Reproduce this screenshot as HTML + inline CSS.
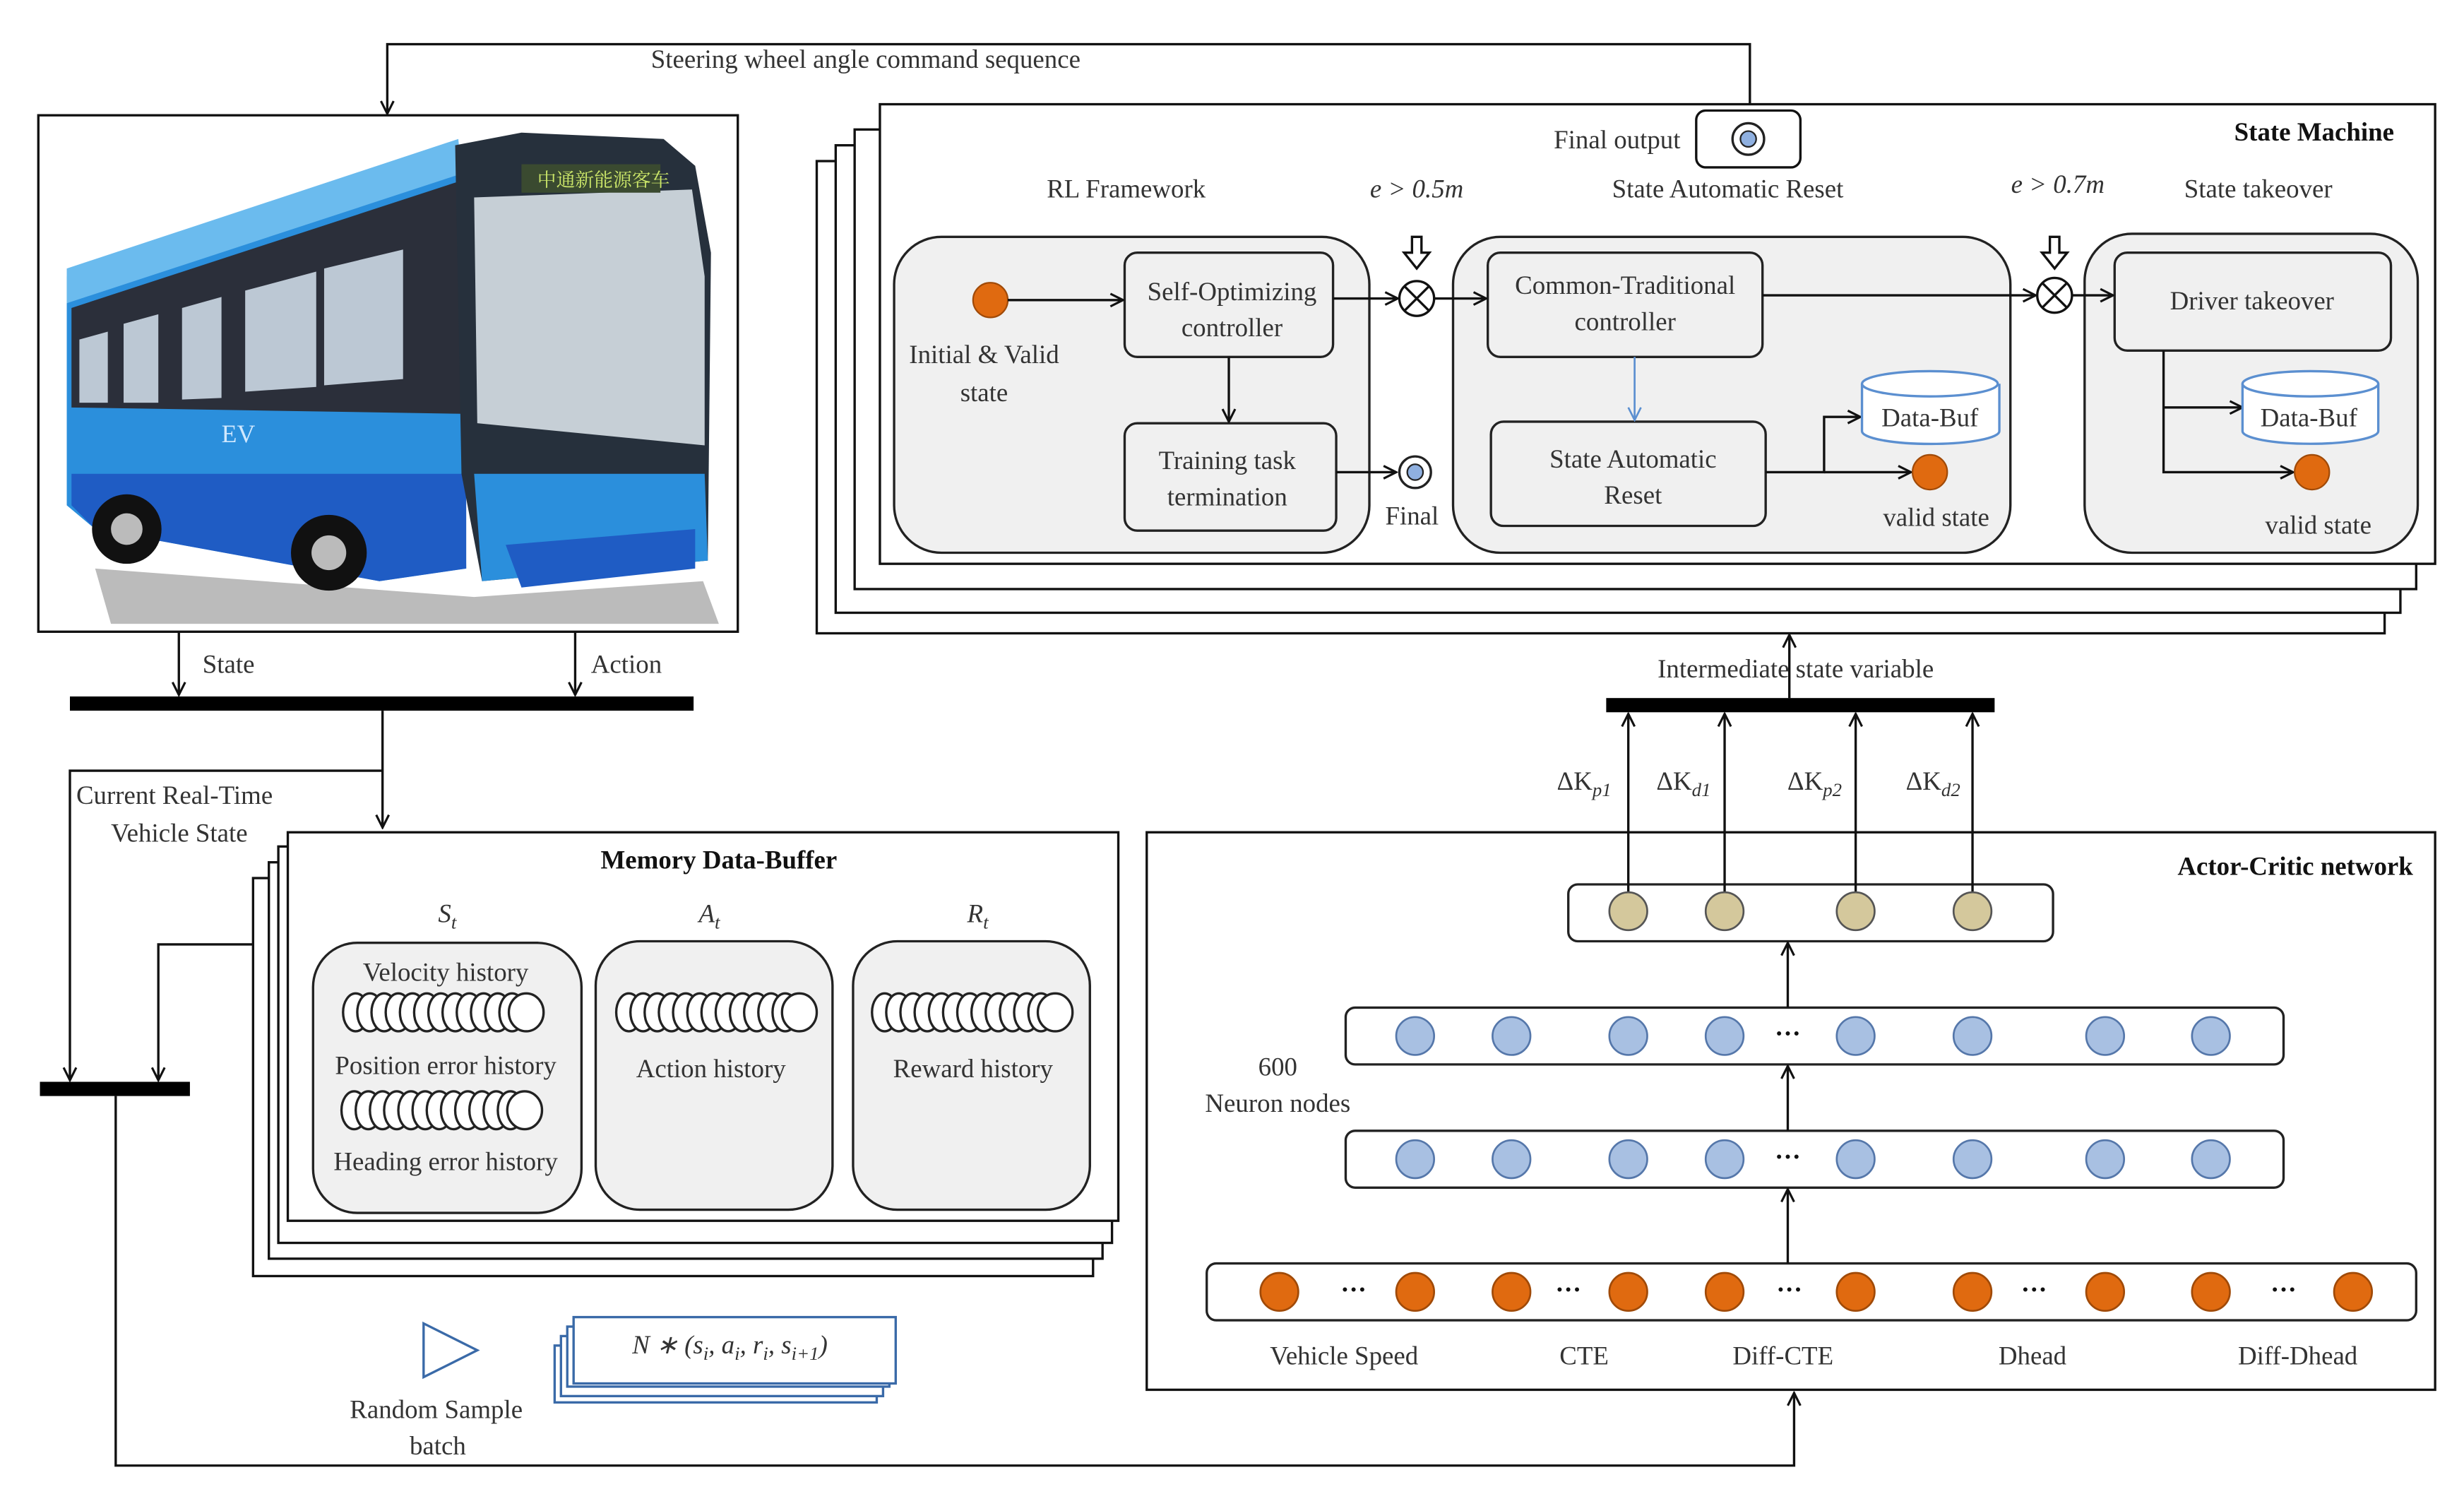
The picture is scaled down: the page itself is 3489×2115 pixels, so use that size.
<!DOCTYPE html>
<html><head><meta charset="utf-8"><style>html,body{margin:0;padding:0;background:#fff}svg{display:block}
text{font-family:"Liberation Serif","Noto Serif CJK SC",serif;font-size:16.5px;fill:#333}
.b{font-weight:bold;fill:#111}.i{font-style:italic}</style></head><body>
<svg width="3489" height="2115" viewBox="0 0 1560 946" xmlns="http://www.w3.org/2000/svg">
<defs>
<marker id="a" markerWidth="10" markerHeight="10" refX="9" refY="5" orient="auto" markerUnits="userSpaceOnUse"><path d="M1,1 L9,5 L1,9" fill="none" stroke="#111" stroke-width="1.4"/></marker>
<marker id="ab" markerWidth="10" markerHeight="10" refX="9" refY="5" orient="auto" markerUnits="userSpaceOnUse"><path d="M1,1 L9,5 L1,9" fill="none" stroke="#5b8fd0" stroke-width="1.2"/></marker>
<g id="coil"><g fill="#fff" stroke="#222" stroke-width="1.5">
<ellipse cx="0" cy="0" rx="8" ry="12"/><ellipse cx="9" cy="0" rx="8" ry="12"/><ellipse cx="18" cy="0" rx="8" ry="12"/><ellipse cx="27" cy="0" rx="8" ry="12"/><ellipse cx="36" cy="0" rx="8" ry="12"/><ellipse cx="45" cy="0" rx="8" ry="12"/><ellipse cx="54" cy="0" rx="8" ry="12"/><ellipse cx="63" cy="0" rx="8" ry="12"/><ellipse cx="72" cy="0" rx="8" ry="12"/><ellipse cx="81" cy="0" rx="8" ry="12"/><ellipse cx="90" cy="0" rx="8" ry="12"/><ellipse cx="99" cy="0" rx="8" ry="12"/><ellipse cx="108" cy="0" rx="11" ry="12"/></g></g>
</defs>
<g fill="none" stroke="#111" stroke-width="1.5">
<polyline points="1108,72 1108,28 245,28 245,72" marker-end="url(#a)"/>
<rect x="24" y="73" width="443" height="327"/>
<line x1="113" y1="400" x2="113" y2="440" marker-end="url(#a)"/>
<line x1="364" y1="400" x2="364" y2="440" marker-end="url(#a)"/>
<polyline points="242,450 242,524" marker-end="url(#a)"/>
<polyline points="242,488 44,488 44,684" marker-end="url(#a)"/>
<polyline points="160,598 100,598 100,684" marker-end="url(#a)"/>
<polyline points="73,694 73,928 1136,928 1136,882" marker-end="url(#a)"/>
</g>
<text x="412" y="43">Steering wheel angle command sequence</text>
<text x="128" y="426">State</text><text x="374" y="426">Action</text>
<rect x="44" y="441" width="395" height="9" fill="#000"/>
<rect x="25" y="685" width="95" height="9" fill="#000"/>
<text x="48" y="509">Current Real-Time</text><text x="70" y="533">Vehicle State</text>

<!-- bus -->
<polygon points="60,360 300,378 445,368 455,395 70,395" fill="#777" opacity="0.5"/>
<polygon points="42,175 290,92 295,360 240,368 60,335 42,320" fill="#2b8fdc"/>
<polygon points="42,170 290,88 292,110 42,192" fill="#6bbbee"/>
<polygon points="45,195 290,115 292,262 45,258" fill="#2b2f3a"/>
<polygon points="50,215 68,210 68,255 50,255" fill="#bcc8d4"/>
<polygon points="78,205 100,199 100,255 78,255" fill="#bcc8d4"/>
<polygon points="115,195 140,188 140,252 115,253" fill="#bcc8d4"/>
<polygon points="155,184 200,172 200,245 155,248" fill="#bcc8d4"/>
<polygon points="205,170 255,158 255,240 205,244" fill="#bcc8d4"/>
<polygon points="45,300 295,300 295,360 240,368 60,335 45,320" fill="#1f5cc4"/>
<polygon points="288,92 330,84 420,88 440,105 450,160 448,355 305,368 292,300" fill="#26303c"/>
<polygon points="300,125 438,120 446,175 446,282 302,268" fill="#c6cfd6"/>
<polygon points="300,300 446,300 448,355 305,368" fill="#2b8fdc"/>
<polygon points="320,345 440,335 440,360 330,372" fill="#1f5cc4"/>
<rect x="330" y="104" width="88" height="18" fill="#3a4a30"/>
<text x="340" y="118" style="font-size:12px;fill:#cde86a">中通新能源客车</text>
<circle cx="80" cy="335" r="22" fill="#111"/><circle cx="80" cy="335" r="10" fill="#bbb"/>
<circle cx="208" cy="350" r="24" fill="#111"/><circle cx="208" cy="350" r="11" fill="#bbb"/>
<text x="140" y="280" style="font-size:16px;fill:#d0e8ff">EV</text>

<!-- State machine stack -->
<g fill="#fff" stroke="#111" stroke-width="1.5">
<rect x="517" y="102" width="993" height="299"/>
<rect x="529" y="92" width="991" height="296"/>
<rect x="541" y="82" width="989" height="291"/>
<rect x="557" y="66" width="985" height="291"/>
</g>
<text x="1516" y="89" class="b" text-anchor="end">State Machine</text>
<text x="1064" y="94" text-anchor="end">Final output</text>
<rect x="1074" y="70" width="66" height="36" rx="6" fill="#fff" stroke="#111" stroke-width="1.5"/>
<circle cx="1107" cy="88" r="10" fill="#fff" stroke="#222" stroke-width="1.5"/><circle cx="1107" cy="88" r="5" fill="#8fb0e0" stroke="#222"/>
<text x="713" y="125" text-anchor="middle">RL Framework</text>
<text x="897" y="125" text-anchor="middle" class="i">e &gt; 0.5m</text>
<text x="1094" y="125" text-anchor="middle">State Automatic  Reset</text>
<text x="1303" y="122" text-anchor="middle" class="i">e &gt; 0.7m</text>
<text x="1430" y="125" text-anchor="middle">State takeover</text>
<g fill="#f0f0f0" stroke="#222" stroke-width="1.5">
<rect x="566" y="150" width="301" height="200" rx="30"/>
<rect x="920" y="150" width="353" height="200" rx="30"/>
<rect x="1320" y="148" width="211" height="202" rx="30"/>
<rect x="712" y="160" width="132" height="66" rx="8"/>
<rect x="712" y="268" width="134" height="68" rx="8"/>
<rect x="942" y="160" width="174" height="66" rx="8"/>
<rect x="944" y="267" width="174" height="66" rx="8"/>
<rect x="1339" y="160" width="175" height="62" rx="8"/>
</g>
<circle cx="627" cy="190" r="11" fill="#e06a10" stroke="#a04a08"/>
<text x="623" y="230" text-anchor="middle">Initial &amp; Valid</text><text x="623" y="254" text-anchor="middle">state</text>
<text x="780" y="190" text-anchor="middle">Self-Optimizing</text><text x="780" y="213" text-anchor="middle">controller</text>
<text x="777" y="297" text-anchor="middle">Training  task</text><text x="777" y="320" text-anchor="middle">termination</text>
<text x="1029" y="186" text-anchor="middle">Common-Traditional</text><text x="1029" y="209" text-anchor="middle">controller</text>
<text x="1034" y="296" text-anchor="middle">State Automatic</text><text x="1034" y="319" text-anchor="middle">Reset</text>
<text x="1426" y="196" text-anchor="middle">Driver takeover</text>
<circle cx="896" cy="299" r="10" fill="#fff" stroke="#222" stroke-width="1.5"/><circle cx="896" cy="299" r="5" fill="#8fb0e0" stroke="#222"/>
<text x="894" y="332" text-anchor="middle">Final</text>
<g fill="none" stroke="#111" stroke-width="1.5">
<line x1="638" y1="190" x2="711" y2="190" marker-end="url(#a)"/>
<line x1="778" y1="226" x2="778" y2="267" marker-end="url(#a)"/>
<line x1="846" y1="299" x2="884" y2="299" marker-end="url(#a)"/>
<line x1="844" y1="189" x2="885" y2="189" marker-end="url(#a)"/>
<line x1="908" y1="189" x2="941" y2="189" marker-end="url(#a)"/>
<line x1="1116" y1="187" x2="1289" y2="187" marker-end="url(#a)"/>
<line x1="1312" y1="187" x2="1338" y2="187" marker-end="url(#a)"/>
<polyline points="1118,299 1155,299 1155,264 1178,264" marker-end="url(#a)"/>
<line x1="1155" y1="299" x2="1210" y2="299" marker-end="url(#a)"/>
<polyline points="1370,222 1370,299 1452,299" marker-end="url(#a)"/>
<line x1="1370" y1="258" x2="1420" y2="258" marker-end="url(#a)"/>
<circle cx="897" cy="189" r="11"/><line x1="889" y1="181" x2="905" y2="197"/><line x1="905" y1="181" x2="889" y2="197"/>
<circle cx="1301" cy="187" r="11"/><line x1="1293" y1="179" x2="1309" y2="195"/><line x1="1309" y1="179" x2="1293" y2="195"/>
<path d="M894,150 h6 v10 h5 l-8,10 l-8,-10 h5 z"/>
<path d="M1298,150 h6 v10 h5 l-8,10 l-8,-10 h5 z"/>
</g>
<line x1="1035" y1="226" x2="1035" y2="266" stroke="#5b8fd0" stroke-width="1.2" marker-end="url(#ab)"/>
<g fill="#fff" stroke="#5b8fd0" stroke-width="1.5">
<path d="M1179,243 v30 a43,8 0 0 0 87,0 v-30"/><ellipse cx="1222" cy="243" rx="43" ry="8"/>
<path d="M1420,243 v30 a43,8 0 0 0 86,0 v-30"/><ellipse cx="1463" cy="243" rx="43" ry="8"/>
</g>
<text x="1222" y="270" text-anchor="middle">Data-Buf</text><text x="1462" y="270" text-anchor="middle">Data-Buf</text>
<circle cx="1222" cy="299" r="11" fill="#e06a10" stroke="#a04a08"/>
<circle cx="1464" cy="299" r="11" fill="#e06a10" stroke="#a04a08"/>
<text x="1226" y="333" text-anchor="middle">valid state</text>
<text x="1468" y="338" text-anchor="middle">valid state</text>

<!-- Memory stack -->
<g fill="#fff" stroke="#111" stroke-width="1.5">
<rect x="160" y="556" width="532" height="252"/>
<rect x="170" y="546" width="528" height="251"/>
<rect x="176" y="536" width="528" height="251"/>
<rect x="182" y="527" width="526" height="246"/>
</g>
<text x="455" y="550" class="b" text-anchor="middle">Memory Data-Buffer</text>
<text x="283" y="584" class="i" text-anchor="middle">S<tspan dy="4" style="font-size:12px">t</tspan></text>
<text x="449" y="584" class="i" text-anchor="middle">A<tspan dy="4" style="font-size:12px">t</tspan></text>
<text x="619" y="584" class="i" text-anchor="middle">R<tspan dy="4" style="font-size:12px">t</tspan></text>
<g fill="#f0f0f0" stroke="#222" stroke-width="1.5">
<rect x="198" y="597" width="170" height="171" rx="28"/>
<rect x="377" y="596" width="150" height="170" rx="28"/>
<rect x="540" y="596" width="150" height="170" rx="28"/>
</g>
<use href="#coil" x="225" y="641"/><use href="#coil" x="224" y="703"/>
<use href="#coil" x="398" y="641"/><use href="#coil" x="560" y="641"/>
<text x="282" y="621" text-anchor="middle">Velocity history</text>
<text x="282" y="680" text-anchor="middle">Position error history</text>
<text x="282" y="741" text-anchor="middle">Heading error history</text>
<text x="450" y="682" text-anchor="middle">Action history</text>
<text x="616" y="682" text-anchor="middle">Reward history</text>
<polygon points="268,838 268,872 302,855" fill="#fff" stroke="#3a6aa8" stroke-width="1.5"/>
<text x="276" y="898" text-anchor="middle">Random Sample</text><text x="277" y="921" text-anchor="middle">batch</text>
<g fill="#fff" stroke="#3a6aa8" stroke-width="1.5">
<rect x="351" y="852" width="204" height="36"/><rect x="355" y="846" width="204" height="38"/>
<rect x="359" y="840" width="204" height="38"/><rect x="363" y="834" width="204" height="42"/>
</g>
<text x="462" y="857" class="i" text-anchor="middle">N ∗ (s<tspan dy="4" style="font-size:12px">i</tspan><tspan dy="-4">, a</tspan><tspan dy="4" style="font-size:12px">i</tspan><tspan dy="-4">, r</tspan><tspan dy="4" style="font-size:12px">i</tspan><tspan dy="-4">, s</tspan><tspan dy="4" style="font-size:12px">i+1</tspan><tspan dy="-4">)</tspan></text>

<!-- Actor-critic -->
<rect x="726" y="527" width="816" height="353" fill="#fff" stroke="#111" stroke-width="1.5"/>
<text x="1528" y="554" class="b" text-anchor="end">Actor-Critic network</text>
<g fill="#fff" stroke="#222" stroke-width="1.5">
<rect x="993" y="560" width="307" height="36" rx="6"/>
<rect x="852" y="638" width="594" height="36" rx="6"/>
<rect x="852" y="716" width="594" height="36" rx="6"/>
<rect x="764" y="800" width="766" height="36" rx="6"/>
</g>
<g fill="none" stroke="#111" stroke-width="1.5">
<line x1="1132" y1="800" x2="1132" y2="753" marker-end="url(#a)"/>
<line x1="1132" y1="716" x2="1132" y2="675" marker-end="url(#a)"/>
<line x1="1132" y1="638" x2="1132" y2="597" marker-end="url(#a)"/>
<line x1="1031" y1="565" x2="1031" y2="452" marker-end="url(#a)"/>
<line x1="1092" y1="565" x2="1092" y2="452" marker-end="url(#a)"/>
<line x1="1175" y1="565" x2="1175" y2="452" marker-end="url(#a)"/>
<line x1="1249" y1="565" x2="1249" y2="452" marker-end="url(#a)"/>
<line x1="1133" y1="442" x2="1133" y2="402" marker-end="url(#a)"/>
</g>
<rect x="1017" y="442" width="246" height="9" fill="#000"/>
<text x="1137" y="429" text-anchor="middle">Intermediate state variable</text>
<text x="1003" y="500" text-anchor="middle">ΔK<tspan dy="4" class="i" style="font-size:12px">p1</tspan></text>
<text x="1066" y="500" text-anchor="middle">ΔK<tspan dy="4" class="i" style="font-size:12px">d1</tspan></text>
<text x="1149" y="500" text-anchor="middle">ΔK<tspan dy="4" class="i" style="font-size:12px">p2</tspan></text>
<text x="1224" y="500" text-anchor="middle">ΔK<tspan dy="4" class="i" style="font-size:12px">d2</tspan></text>
<g fill="#d4c89c" stroke="#555" stroke-width="1.2">
<circle cx="1031" cy="577" r="12"/><circle cx="1092" cy="577" r="12"/><circle cx="1175" cy="577" r="12"/><circle cx="1249" cy="577" r="12"/>
</g>
<g fill="#a8c0e2" stroke="#5577aa" stroke-width="1.2">
<circle cx="896" cy="656" r="12"/><circle cx="957" cy="656" r="12"/><circle cx="1031" cy="656" r="12"/><circle cx="1092" cy="656" r="12"/><circle cx="1175" cy="656" r="12"/><circle cx="1249" cy="656" r="12"/><circle cx="1333" cy="656" r="12"/><circle cx="1400" cy="656" r="12"/>
<circle cx="896" cy="734" r="12"/><circle cx="957" cy="734" r="12"/><circle cx="1031" cy="734" r="12"/><circle cx="1092" cy="734" r="12"/><circle cx="1175" cy="734" r="12"/><circle cx="1249" cy="734" r="12"/><circle cx="1333" cy="734" r="12"/><circle cx="1400" cy="734" r="12"/>
</g>
<g fill="#e06a10" stroke="#a04a08" stroke-width="1.2">
<circle cx="810" cy="818" r="12"/><circle cx="896" cy="818" r="12"/><circle cx="957" cy="818" r="12"/><circle cx="1031" cy="818" r="12"/><circle cx="1092" cy="818" r="12"/><circle cx="1175" cy="818" r="12"/><circle cx="1249" cy="818" r="12"/><circle cx="1333" cy="818" r="12"/><circle cx="1400" cy="818" r="12"/><circle cx="1490" cy="818" r="12"/>
</g>
<text x="1132" y="660" class="b" text-anchor="middle">···</text><text x="1132" y="738" class="b" text-anchor="middle">···</text>
<text x="857" y="822" class="b" text-anchor="middle">···</text><text x="993" y="822" class="b" text-anchor="middle">···</text><text x="1133" y="822" class="b" text-anchor="middle">···</text><text x="1288" y="822" class="b" text-anchor="middle">···</text><text x="1446" y="822" class="b" text-anchor="middle">···</text>
<text x="809" y="681" text-anchor="middle">600</text><text x="809" y="704" text-anchor="middle">Neuron nodes</text>
<text x="851" y="864" text-anchor="middle">Vehicle Speed</text>
<text x="1003" y="864" text-anchor="middle">CTE</text>
<text x="1129" y="864" text-anchor="middle">Diff-CTE</text>
<text x="1287" y="864" text-anchor="middle">Dhead</text>
<text x="1455" y="864" text-anchor="middle">Diff-Dhead</text>
</svg>
</body></html>
